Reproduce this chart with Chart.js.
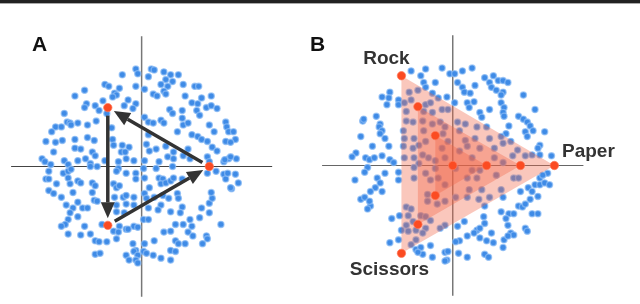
<!DOCTYPE html>
<html>
<head>
<meta charset="utf-8">
<script src="https://cdn.jsdelivr.net/npm/chart.js@4/dist/chart.umd.min.js"></script>
<style>
  body { margin: 0; background: #fff; }
  #wrap { position: relative; width: 640px; height: 304px; overflow: hidden; }
  #topline { position: absolute; left: 0; top: 0; width: 640px; height: 3px; background: #222; border-bottom: 1px solid #aaa; }
  canvas { position: absolute; top: 0; }
  #chartA { left: 0; }
  #chartB { left: 310px; }
  .panel { position: absolute; top: 33px; font: bold 21px "Liberation Sans", Arial, sans-serif; line-height: 21px; color: #111; }
</style>
</head>
<body>
<div id="wrap">
  <div id="topline"></div>
  <canvas id="chartA" width="320" height="304"></canvas>
  <canvas id="chartB" width="330" height="304"></canvas>
  <div class="panel" style="left:32px">A</div>
  <div class="panel" style="left:310px">B</div>
</div>
<script>
// population samples, panel A
const popA = [
  [-6,101],[-4,96],[-20,95],[-38,85],[-34,83],[-23,81],[-28,76],[-26,74],[-30,72],[-6,83],[-14,69],[-6,65],[-18,63],[-9,60],
  [-59,79],[-69,73],[-40,68],[-57,65],[-59,61],[-48,63],[-44,58],[-36,55],[-80,55],[-77,46],[-74,45],[-73,43],[-66,45],[-89,41],
  [-83,41],[-93,36],[-56,43],[-47,47],[-31,40],[-99,26],[-89,25],[-82,27],[-69,28],[-56,30],[-49,27],[-30,28],[-20,22],[-13,20],
  [-29,22],[-69,19],[-63,18],[-91,15],[-51,15],[-21,15],[-17,15],[-103,8],[-100,5],[-80,6],[-66,6],[-58,8],[-48,11],[-38,6],
  [-24,5],[-16,8],[-8,6],[-94,2],[-76,2],[-53,3],
  [10,101],[13,100],[7,93],[23,98],[30,95],[38,95],[25,90],[32,88],[20,85],[27,83],[23,78],[12,75],[16,73],[25,75],[3,80],
  [43,85],[55,83],[59,83],[45,73],[62,71],[72,73],[52,66],[58,65],[57,58],[60,53],[67,61],[72,63],[78,60],[29,59],[32,55],
  [42,58],[42,50],[3,51],[7,46],[12,45],[20,48],[23,45],[43,43],[48,45],[87,46],[88,41],[70,43],[75,36],[90,36],[95,36],
  [97,28],[87,26],[92,25],[37,36],[52,33],[58,31],[62,28],[68,26],[73,20],[78,16],[7,33],[5,23],[8,16],[15,18],[25,21],
  [27,10],[33,15],[33,8],[43,11],[48,18],[50,8],[68,10],[70,5],[85,5],[90,8],[98,8],[18,5],[3,6],[86,7],[92,10],
  [-96,-5],[-81,-7],[-76,-5],[-73,-3],[-53,0],[-46,0],[-24,-2],[-26,-5],[-16,-7],[-6,-7],[-99,-13],[-96,-13],[-88,-18],
  [-76,-12],[-74,-18],[-66,-15],[-63,-17],[-51,-17],[-48,-20],[-29,-18],[-26,-22],[-23,-20],[-6,-13],[-96,-25],[-91,-28],
  [-83,-32],[-71,-27],[-51,-27],[-28,-32],[-19,-32],[-16,-30],[-8,-32],[-49,-35],[-46,-36],[-66,-37],[-78,-40],[-71,-43],
  [-61,-43],[-56,-43],[-26,-40],[-16,-39],[-8,-40],[-74,-48],[-66,-52],[-26,-47],[-18,-48],[-76,-55],[-79,-60],[-83,-62],
  [-59,-62],[-41,-60],[-23,-62],[-16,-65],[-8,-62],[-4,-63],[-29,-67],[-24,-68],[-76,-70],[-63,-71],[-53,-70],[-14,-65],
  [-26,-75],[-48,-77],[-44,-78],[-36,-78],[-9,-80],[-6,-87],[-8,-88],[-4,-92],[-48,-91],[-43,-90],[-16,-92],[-13,-97],
  [-6,-97],[-4,-100],
  [2,-2],[15,-2],[32,0],[3,-12],[18,-12],[22,-13],[20,-18],[25,-17],[30,-15],[33,-12],[42,-13],[8,-22],[3,-28],[5,-33],
  [13,-32],[22,-30],[28,-33],[37,-28],[38,-33],[20,-40],[42,-42],[62,-43],[70,-38],[73,-33],[72,-27],[68,-7],[77,-5],
  [85,-8],[87,-13],[97,-8],[93,-23],[92,-22],[100,-17],[7,-43],[17,-45],[30,-47],[40,-48],[50,-55],[60,-53],[70,-48],
  [2,-55],[7,-55],[35,-60],[43,-60],[52,-62],[82,-60],[23,-68],[30,-67],[48,-68],[53,-72],[67,-72],[68,-75],[63,-80],
  [35,-77],[38,-80],[45,-80],[13,-77],[3,-80],[2,-88],[5,-90],[12,-92],[20,-95],[30,-87],[35,-88],[30,-97],[89,-7]
];

// population samples, panel B
const popB = [
  [-43,98],[-28,100],[-33,93],[-11,101],[-3,95],[-30,86],[-18,86],[-28,81],[-36,78],[-45,76],[-21,75],[-15,70],[-6,71],
  [-65,76],[-73,71],[-66,70],[-56,68],[-68,63],[-56,63],[-50,65],[-43,68],[-28,63],[-23,65],[-11,58],[-5,58],[-48,56],
  [-30,56],[-21,55],[-93,46],[-75,43],[-76,40],[-73,36],[-48,46],[-41,45],[-31,46],[-21,43],[-13,45],[-8,40],[-95,30],
  [-75,33],[-70,28],[-51,36],[-50,28],[-40,28],[-30,36],[-28,25],[-10,33],[-5,25],[-83,20],[-66,20],[-51,20],[-41,18],
  [-35,21],[-11,18],[-100,13],[-90,8],[-86,6],[-81,8],[-73,10],[-65,6],[-50,8],[-40,8],[-31,11],[-25,8],[-18,5],[-8,8],
  [-61,3],[-35,2],[-92,48],[-79,51],[-104,9],
  [2,95],[10,98],[20,101],[5,86],[10,81],[12,76],[18,75],[23,83],[2,65],[15,65],[17,60],[22,66],[33,91],[42,93],[38,86],
  [40,81],[47,88],[52,88],[57,86],[45,78],[52,76],[50,73],[73,73],[50,65],[53,60],[52,55],[53,51],[38,58],[28,55],[30,50],
  [85,58],[68,51],[73,48],[77,45],[80,41],[83,36],[95,35],[58,41],[55,33],[75,35],[77,30],[90,21],[88,18],[102,10],[82,11],
  [5,45],[13,43],[7,36],[25,40],[35,40],[13,26],[23,28],[38,28],[50,30],[52,23],[60,25],[15,20],[28,18],[43,18],[67,16],
  [7,15],[20,8],[43,8],[62,10],[75,10],[90,11],[52,3],
  [-88,-2],[-91,-7],[-70,-8],[-56,-7],[-40,-2],[-28,-8],[-18,-3],[-101,-15],[-78,-13],[-75,-18],[-56,-15],[-40,-13],
  [-23,-15],[-15,-13],[-8,-20],[-80,-23],[-73,-27],[-85,-27],[-95,-35],[-91,-33],[-85,-42],[-86,-37],[-88,-45],[-26,-30],
  [-26,-37],[-16,-40],[-8,-37],[-48,-43],[-43,-45],[-46,-52],[-55,-52],[-63,-55],[-33,-52],[-28,-53],[-23,-57],[-41,-58],
  [-48,-62],[-28,-65],[-31,-70],[-53,-67],[-46,-68],[-38,-67],[-8,-62],[-13,-65],[-56,-77],[-65,-80],[-43,-82],[-38,-87],
  [-33,-85],[-23,-83],[-31,-92],[-36,-90],[-21,-95],[-8,-90],[-6,-98],[-38,-77],
  [3,-3],[20,-5],[28,-5],[15,-13],[25,-13],[63,-13],[68,-13],[45,-10],[90,-13],[85,-20],[90,-20],[95,-18],[100,-20],
  [98,-8],[93,-10],[17,-25],[30,-25],[50,-25],[70,-27],[78,-23],[82,-27],[3,-33],[15,-33],[27,-35],[38,-33],[52,-33],
  [80,-35],[88,-32],[33,-42],[68,-42],[72,-43],[75,-40],[50,-48],[58,-50],[63,-50],[82,-50],[88,-50],[12,-58],[32,-53],
  [33,-60],[55,-55],[57,-62],[75,-65],[77,-68],[25,-67],[28,-65],[22,-70],[40,-70],[60,-70],[63,-72],[7,-78],[15,-73],
  [28,-75],[35,-78],[42,-80],[53,-77],[57,-73],[52,-85],[33,-92],[37,-95],[15,-95],[5,-63],[3,-79],[6,-91],[-5,-89],[-8,-99]
];

// strategies (rock, paper, scissors)
const stratNames = ['Rock', 'Paper', 'Scissors'];
const stratA = [[-35, 61], [70, 0], [-35, -61]];
// nested triangles in B, outer to inner
const stratB = [
  [[-53, 93], [105, 0], [-53, -91]],
  [[-36, 61], [70, 0], [-36, -61]],
  [[-18, 31], [35, 0], [-18, -31]]
];
const centerB = [0, 0];
// arrows in A: from -> to (indexes into stratA)
const cycleA = [[1, 0], [0, 2], [2, 1]];

const axisLen = 135;
const blue = '#3f8be6';
const red = '#fb4b22';

const xy = (p) => ({ x: p[0], y: p[1] });

function axisSets(hColor, vColor) {
  return [{
    type: 'line', data: [{ x: -axisLen, y: 0 }, { x: axisLen, y: 0 }],
    borderColor: hColor, borderWidth: 1.2, pointRadius: 0, order: 20
  }, {
    type: 'line', data: [{ x: 0, y: axisLen }, { x: 0, y: -axisLen }],
    borderColor: vColor, borderWidth: 1.5, pointRadius: 0, order: 20
  }];
}

function popSet(pts) {
  return {
    label: 'population', data: pts.map(xy),
    backgroundColor: blue, borderColor: 'rgba(140,188,245,0.7)', borderWidth: 1.3,
    pointRadius: 3.1, order: 10
  };
}

function redSet(pts) {
  return {
    label: 'strategies', data: pts.map(xy),
    backgroundColor: red, borderColor: 'rgba(255,120,90,0.7)', borderWidth: 1,
    pointRadius: 4.2, order: 1
  };
}

function arrow(ctx, x0, y0, x1, y1) {
  const len = Math.hypot(x1 - x0, y1 - y0);
  const ux = (x1 - x0) / len, uy = (y1 - y0) / len;
  const sx = x0 + ux * 8, sy = y0 + uy * 8;
  const ex = x1 - ux * 7, ey = y1 - uy * 7;
  const bx = ex - ux * 16, by = ey - uy * 16;
  ctx.beginPath();
  ctx.moveTo(sx, sy);
  ctx.lineTo(bx, by);
  ctx.stroke();
  ctx.beginPath();
  ctx.moveTo(ex, ey);
  ctx.lineTo(bx - uy * 7, by + ux * 7);
  ctx.lineTo(bx + uy * 7, by - ux * 7);
  ctx.closePath();
  ctx.fill();
}

const arrowsPlugin = {
  id: 'arrows',
  beforeDatasetDraw(chart, args) {
    if (chart.data.datasets[args.index].label !== 'strategies') return;
    const xs = chart.scales.x, ys = chart.scales.y, ctx = chart.ctx;
    ctx.save();
    ctx.strokeStyle = '#333';
    ctx.fillStyle = '#333';
    ctx.lineWidth = 3.5;
    cycleA.forEach(([a, b]) => {
      arrow(ctx, xs.getPixelForValue(stratA[a][0]), ys.getPixelForValue(stratA[a][1]),
        xs.getPixelForValue(stratA[b][0]), ys.getPixelForValue(stratA[b][1]));
    });
    ctx.restore();
  }
};

// label offsets from the outer vertices, in pixels
const labelOffset = [[-15, -17], [34, -14], [-12, 16]];
const labelsPlugin = {
  id: 'stratLabels',
  afterDatasetsDraw(chart) {
    const xs = chart.scales.x, ys = chart.scales.y, ctx = chart.ctx;
    ctx.save();
    ctx.font = 'bold 19px "Liberation Sans", Arial, sans-serif';
    ctx.fillStyle = '#333';
    ctx.textAlign = 'center';
    ctx.textBaseline = 'middle';
    stratNames.forEach((name, i) => {
      const v = stratB[0][i];
      ctx.fillText(name, xs.getPixelForValue(v[0]) + labelOffset[i][0], ys.getPixelForValue(v[1]) + labelOffset[i][1]);
    });
    ctx.restore();
  }
};

function options(xMin, xMax, yMin, yMax) {
  return {
    responsive: false,
    animation: false,
    layout: { padding: 0 },
    plugins: { legend: { display: false }, tooltip: { enabled: false } },
    scales: {
      x: { type: 'linear', min: xMin, max: xMax, display: false },
      y: { type: 'linear', min: yMin, max: yMax, display: false }
    }
  };
}

const chartA = new Chart(document.getElementById('chartA').getContext('2d'), {
  type: 'scatter',
  data: { datasets: [...axisSets('#444', '#777'), popSet(popA), redSet(stratA)] },
  options: options(-141, 179, -137, 167),
  plugins: [arrowsPlugin]
});

const triSets = stratB.map((tri) => ({
  type: 'line', data: [...tri, tri[0]].map(xy),
  fill: 'shape', backgroundColor: 'rgba(240,100,70,0.36)',
  borderWidth: 0, pointRadius: 0, order: 5
}));

const chartB = new Chart(document.getElementById('chartB').getContext('2d'), {
  type: 'scatter',
  data: {
    datasets: [...axisSets('#666', '#777'), popSet(popB), ...triSets,
      redSet([...stratB[0], ...stratB[1], ...stratB[2], centerB])]
  },
  options: options(-142, 188, -138, 166),
  plugins: [labelsPlugin]
});
</script>
</body>
</html>
